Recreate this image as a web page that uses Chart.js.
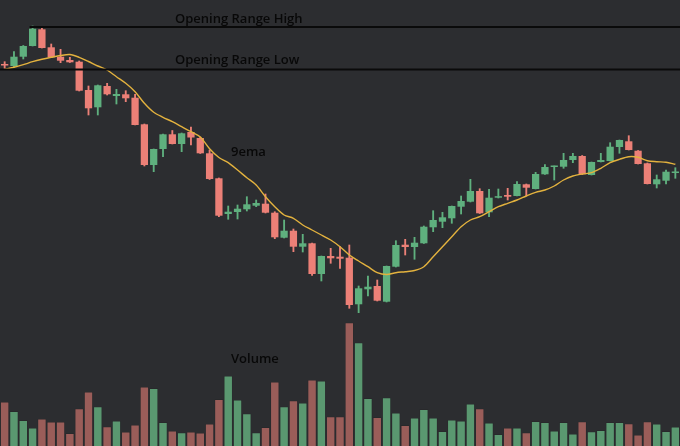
<!DOCTYPE html>
<html>
<head>
<meta charset="utf-8">
<script src="https://cdn.jsdelivr.net/npm/chart.js@4.4.1/dist/chart.umd.min.js"></script>
<style>
  html, body { margin: 0; padding: 0; background: #2c2d30; }
  #myChart { display: block; }
</style>
</head>
<body>
<canvas id="myChart" width="680" height="446"></canvas>
<script>
// candles (arbitrary price units)
const opens = [381.5, 380, 389.3, 400, 416.7, 398.7, 389.3, 386, 384.3, 356,
  338.7, 360, 350, 351.7, 348.3, 321.7, 281, 297, 311.7, 302,
  314, 308, 292.7, 267.7, 232, 234, 236.7, 240.3, 242.3, 233.3,
  208.3, 215.3, 199.3, 202.7, 172, 190, 189.3, 188.3, 141.7, 156.7,
  160, 144.3, 179.3, 201.3, 199, 202.7, 218.7, 224.3, 227.7, 239.3,
  244.3, 255, 233.7, 248.3, 251, 250, 261.7, 257, 271.7, 279,
  279.3, 286, 290, 271, 284, 285, 299, 304.7, 295.3, 282.7,
  261.7, 265.3, 273];
const highs = [384.3, 394.3, 400.5, 420, 419, 402, 396.7, 388.7, 385, 360,
  361, 362.7, 356.7, 355.3, 351.7, 322, 297, 312, 315.5, 313,
  319, 309, 296, 268, 240, 241, 249.3, 246, 252, 234.3,
  226, 217, 211.7, 203, 190, 197.7, 199.3, 201, 160, 170,
  166, 180, 205.3, 206.7, 208.7, 220, 235.3, 233.7, 240, 250,
  266.7, 257.3, 256.7, 257, 257.7, 264.3, 262, 273.7, 281.3, 280,
  292.7, 292.7, 290.5, 284, 292.7, 303.3, 306, 310.3, 295.5, 283,
  271, 276, 278.3];
const lows = [377, 379, 387, 400, 398, 388.5, 383.3, 383.5, 355, 331,
  331, 351, 342, 344.3, 321, 280, 274.3, 289.3, 302, 294.3,
  301, 292.5, 266.5, 229.3, 226.7, 227, 235, 239.3, 233, 207.3,
  208, 194.3, 194, 170.7, 165, 182.7, 177.7, 137.7, 133.3, 150,
  145, 144, 179, 191, 186.7, 202.5, 214.3, 218.3, 222.7, 232,
  244, 232.5, 229.3, 248, 246, 250, 250, 257, 271.5, 266,
  277.7, 283.3, 271.5, 271, 284, 285, 292.7, 296, 282, 262,
  258, 262, 267.7];
const closes = [380.5, 389.3, 400, 417.3, 398, 388.7, 385.3, 383.7, 355.3, 337.7,
  360.7, 351.7, 352, 347.7, 321, 281, 297, 311.7, 302, 312.7,
  308.5, 292.7, 267, 230.3, 234.3, 237.3, 241.7, 243, 233.3, 208.7,
  215.3, 199.3, 202.7, 172, 190, 187.7, 187.3, 141, 157.7, 159.3,
  145.3, 180, 201, 199, 203.3, 219.3, 226, 228.7, 240, 245,
  255, 232.7, 248.3, 249.7, 249.3, 262, 258.3, 272, 279, 280,
  286, 290, 271.7, 284, 286, 299.3, 306, 296, 282, 262,
  266.7, 274.3, 273.5];

// 9 period ema as drawn on the picture
const ema9 = [376.7, 378.7, 381.3, 384.3, 386.7, 388.7, 390.5, 391.5, 388.7, 384.5,
  380, 376, 369.3, 362.7, 354.3, 342.7, 333.7, 328.7, 324.3, 319.3,
  314.3, 309, 297.3, 288.5, 283.3, 276, 268.3, 261, 249.3, 239.3,
  231, 227.7, 221, 216, 211, 206, 199.3, 191, 185, 179.3,
  173.3, 171.5, 173.3, 174.3, 175.5, 179.3, 189.3, 199.3, 209.3, 219.3,
  226, 229.3, 234.3, 239.3, 242.7, 246, 250, 253.7, 256, 260,
  266, 270, 272, 273.3, 277.7, 283.3, 286.7, 289.3, 288.7, 285.3,
  284.3, 283.7, 281.7];

// volume (shares)
const volumes = [44000, 34700, 25700, 18000, 27000, 24000, 24000, 12700, 37300, 54000,
  39300, 19300, 25000, 14000, 21000, 59000, 57700, 23700, 15000, 13300,
  14000, 13000, 22000, 46700, 70000, 46000, 32300, 13300, 18700, 64000,
  39300, 45300, 43000, 66000, 65000, 29300, 29300, 123300, 103300, 47700,
  28700, 48300, 33000, 20700, 28000, 36700, 28000, 14700, 26000, 25000,
  42000, 37300, 23000, 11700, 18000, 18000, 13300, 24700, 23700, 15000,
  23700, 12000, 24300, 14300, 15700, 23700, 23700, 22300, 11000, 24300,
  22000, 14700, 19000];

const OR_HIGH = 419;
const OR_LOW = 376.5;
const OR_HIGH_FROM = 3; // candle where the high was set

const labels = opens.map((o, i) => i);

const UP = '#5fb07e';
const DOWN = '#ec8077';
const VOL_UP = '#5a9870';
const VOL_DOWN = '#9a5d59';

let up = opens.map((o, i) => closes[i] >= o);

let data = {
  labels: labels,
  datasets: [{
    type: 'line',
    data: ema9,
    borderColor: '#e3b23e',
    borderWidth: 1.4,
    pointRadius: 0,
    tension: 0.3,
    order: 0
  }, {
    type: 'bar',
    data: opens.map((o, i) => [o, closes[i]]),
    backgroundColor: up.map(u => u ? UP : DOWN),
    barPercentage: 0.78,
    categoryPercentage: 1,
    minBarLength: 1.5,
    grouped: false,
    order: 1
  }, {
    type: 'bar',
    data: lows.map((l, i) => [l, highs[i]]),
    backgroundColor: up.map(u => u ? UP : DOWN),
    barThickness: 1.2,
    grouped: false,
    order: 2
  }, {
    type: 'bar',
    data: volumes,
    yAxisID: 'yVol',
    backgroundColor: up.map(u => u ? VOL_UP : VOL_DOWN),
    borderColor: 'rgba(30,30,30,0.35)',
    borderWidth: 0.6,
    barPercentage: 0.93,
    categoryPercentage: 1,
    grouped: false,
    order: 3
  }]
};

// background, opening range lines and the text notes
const notes = {
  id: 'notes',
  beforeDraw(chart) {
    let c = chart.ctx;
    c.save();
    c.fillStyle = '#2c2d30';
    c.fillRect(0, 0, chart.width, chart.height);
    c.restore();
  },
  afterDatasetsDraw(chart) {
    let c = chart.ctx;
    let x = chart.scales.x;
    let y = chart.scales.y;
    let area = chart.chartArea;
    c.save();
    c.strokeStyle = '#0a0a0a';
    c.lineWidth = 2;
    c.beginPath();
    c.moveTo(x.getPixelForValue(OR_HIGH_FROM) - 3, y.getPixelForValue(OR_HIGH));
    c.lineTo(area.right, y.getPixelForValue(OR_HIGH));
    c.moveTo(area.left, y.getPixelForValue(OR_LOW));
    c.lineTo(area.right, y.getPixelForValue(OR_LOW));
    c.stroke();

    c.fillStyle = '#080808';
    c.font = '600 13px "Open Sans"';
    c.textBaseline = 'middle';
    c.textAlign = 'left';
    c.fillText('Opening Range High', 175, y.getPixelForValue(OR_HIGH) - 8);
    c.fillText('Opening Range Low', 175, y.getPixelForValue(OR_LOW) - 9.5);
    c.fillText('9ema', 231, 152);
    c.fillText('Volume', 231, 359);
    c.restore();
  }
};

var ctx = document.getElementById('myChart');
var chart = new Chart(ctx, {
  type: 'bar',
  data: data,
  plugins: [notes],
  options: {
    responsive: false,
    animation: false,
    layout: { padding: 0 },
    plugins: {
      legend: { display: false },
      tooltip: { enabled: false }
    },
    scales: {
      x: { display: false, offset: true },
      y: { display: false, min: 0, max: 446 },
      yVol: { display: false, min: 0, max: 446000 }
    }
  }
});
</script>
</body>
</html>
